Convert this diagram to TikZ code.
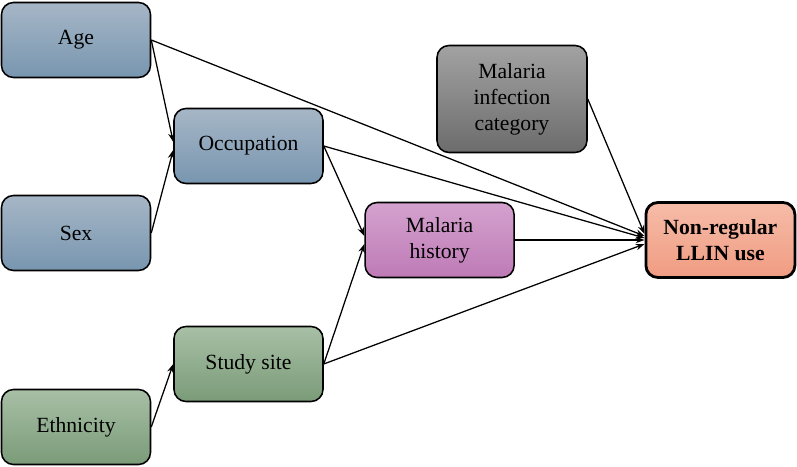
\documentclass[tikz,border=0pt]{standalone}
\usepackage{fontspec}
\setmainfont{Liberation Serif}
\usepackage{xcolor}
\usepackage{tikz}
\usetikzlibrary{arrows.meta, positioning}

\definecolor{blueT}{RGB}{166,182,198}
\definecolor{blueB}{RGB}{120,150,176}
\definecolor{greenT}{RGB}{168,192,166}
\definecolor{greenB}{RGB}{122,155,120}
\definecolor{greyT}{RGB}{162,162,162}
\definecolor{greyB}{RGB}{108,108,108}
\definecolor{pinkT}{RGB}{212,162,206}
\definecolor{pinkB}{RGB}{190,122,182}
\definecolor{salmT}{RGB}{246,188,168}
\definecolor{salmB}{RGB}{240,156,130}

\begin{document}
\begin{tikzpicture}[
  every node/.style={draw, line width=1.1pt, rounded corners=0.3cm,
                     minimum width=3.725cm, minimum height=1.875cm,
                     align=center, font=\fontsize{15.4}{18.5}\selectfont},
  bluebox/.style={top color=blueT, bottom color=blueB},
  greenbox/.style={top color=greenT, bottom color=greenB},
  arr/.style={-{Stealth[length=2.2mm, width=1.6mm]}, line width=0.9pt}
]
  \useasboundingbox (0,0) rectangle (19.925,11.675);

  \node (age)   at (1.9,    10.675) [bluebox] {Age};
  \node (occ)   at (6.2125,  8.025) [bluebox] {Occupation};
  \node (sex)   at (1.9,     5.85)  [bluebox] {Sex};
  \node (site)  at (6.2125,  2.575) [greenbox] {Study site};
  \node (eth)   at (1.9,     1.0)   [greenbox] {Ethnicity};
  \node (inf)   at (12.8,    9.2)   [top color=greyT, bottom color=greyB,
                                     minimum width=3.75cm, minimum height=2.675cm]
                {Malaria\\infection\\category};
  \node (hist)  at (10.99,   5.675) [top color=pinkT, bottom color=pinkB]
                {Malaria\\history};
  \node (nreg)  at (18.01,   5.675) [top color=salmT, bottom color=salmB,
                                     line width=2pt]
                {\textbf{Non-regular}\\\textbf{LLIN use}};

  \draw[arr] (age.east)  -- ([yshift=1mm]occ.west);
  \draw[arr] (sex.east)  -- ([yshift=-1mm]occ.west);
  \draw[arr] (eth.east)  -- (site.west);
  \draw[arr] (occ.east)  -- ([yshift=1mm]hist.west);
  \draw[arr] (site.east) -- ([yshift=-1mm]hist.west);
  \draw[arr] (age.east)  -- ([yshift=1mm]nreg.west);
  \draw[arr] (occ.east)  -- ([yshift=0.5mm]nreg.west);
  \draw[arr] (inf.east)  -- ([yshift=1.5mm]nreg.west);
  \draw[arr] (hist.east) -- (nreg.west);
  \draw[arr] (site.east) -- ([yshift=-1mm]nreg.west);
\end{tikzpicture}
\end{document}
